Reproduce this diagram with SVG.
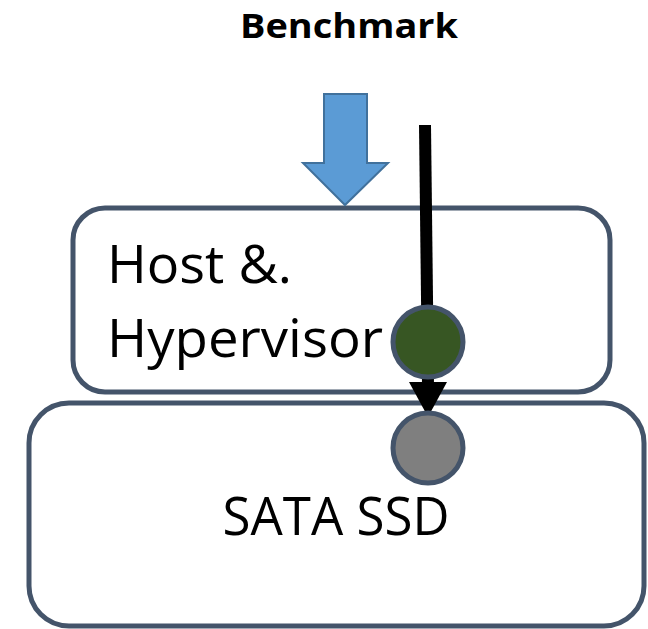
<svg xmlns="http://www.w3.org/2000/svg" width="648" height="629" viewBox="0 0 648 629">
<style>
.box{fill:#fff;stroke:#44546A;stroke-width:5}
.lbl{font-family:"Open Sans","Liberation Sans",sans-serif;fill:#000}
</style>
<defs>
<marker id="ah" markerUnits="userSpaceOnUse" markerWidth="38" markerHeight="36" refX="19" refY="35" orient="auto-start-reverse" viewBox="0 0 38 36">
<path d="M0,0 L38,0 L19,35 Z" fill="#000"/>
</marker>
</defs>
<rect width="648" height="629" fill="#fff"/>
<text class="lbl" x="349" y="38" font-size="34" font-weight="bold" text-anchor="middle" textLength="218" lengthAdjust="spacingAndGlyphs">Benchmark</text>
<g id="host">
<rect class="box" x="73" y="208" width="537" height="184" rx="32"/>
<text class="lbl" x="107" y="283" font-size="53" textLength="185" lengthAdjust="spacingAndGlyphs">Host &amp;.</text>
<text class="lbl" x="107" y="357" font-size="53" textLength="276" lengthAdjust="spacingAndGlyphs">Hypervisor</text>
</g>
<g id="ssd">
<rect class="box" x="29" y="403" width="615" height="223" rx="40"/>
<text class="lbl" x="336" y="535" font-size="53" text-anchor="middle" textLength="227" lengthAdjust="spacingAndGlyphs">SATA SSD</text>
</g>
<g id="benchmark-arrow">
<path d="M324,94 L367,94 L367,163 L388,163 L345,205 L303,163 L324,163 Z" fill="#5B9BD5" stroke="#41719C" stroke-width="2"/>
</g>
<g id="connectors">
<line x1="425" y1="125" x2="428" y2="385" stroke="#000" stroke-width="12"/>
<path d="M409,382 L447,382 L428,417 Z" fill="#000"/>
</g>
<g id="host-port">
<circle cx="428" cy="342" r="35" fill="#375623" stroke="#44546A" stroke-width="5"/>
</g>
<g id="ssd-port">
<circle cx="428" cy="448" r="35" fill="#7F7F7F" stroke="#44546A" stroke-width="5"/>
</g>
</svg>
